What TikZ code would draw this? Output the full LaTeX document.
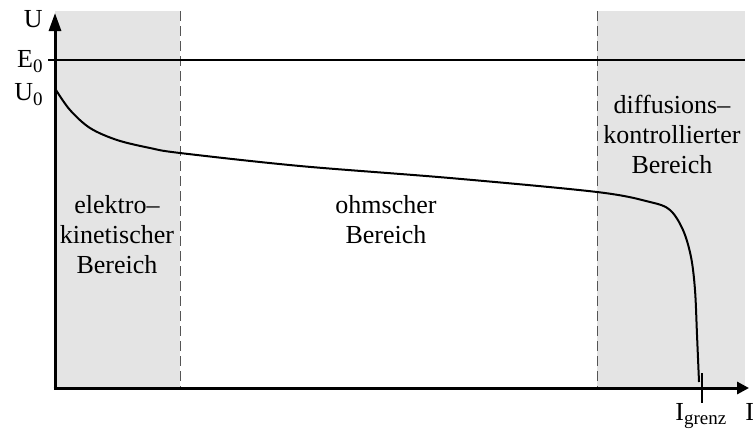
\documentclass[tikz,border=0pt]{standalone}
\usepackage{fontspec}
\setmainfont{Liberation Serif}
\usetikzlibrary{arrows.meta}
\newcommand{\lowsub}[1]{\raisebox{-2.6pt}{\fontsize{9.5}{10}\selectfont #1}}
\newcommand{\lowsubg}[1]{\raisebox{-2pt}{\fontsize{9.5}{10}\selectfont #1}}
\definecolor{regiongray}{HTML}{E4E4E4}
\definecolor{dashgray}{HTML}{555555}
\tikzset{
  region/.style={fill=regiongray, draw=none},
  sep/.style={draw=dashgray, line width=0.5pt, dash pattern=on 5pt off 2.5pt},
  axis/.style={line width=1.5pt},
  lbl/.style={font=\fontsize{13}{15}\selectfont, inner sep=0pt},
  rlbl/.style={lbl, align=center, anchor=base},
  curve/.style={line width=1pt, line join=round}
}
\begin{document}
\begin{tikzpicture}[x=0.5pt, y=-0.5pt]
\useasboundingbox (0,0) rectangle (753,429);
% regions
\fill[region] (55,11) rectangle (180,388);
\fill[region] (597,11) rectangle (745,388);
% dashed separators
\coordinate (d1t) at (180,11); \coordinate (d1b) at (180,388);
\coordinate (d2t) at (597,11); \coordinate (d2b) at (597,388);
\draw[sep] (d1t) -- (d1b);
\draw[sep] (d2t) -- (d2b);
% E0 line
\coordinate (e0l) at (48,60); \coordinate (e0r) at (745,60);
\draw[line width=1pt] (e0l) -- (e0r);
% curve
\draw[curve] plot[smooth, tension=0.55] coordinates {(56,90) (70,110) (90,128) (117,140) (150,148) (180,153) (300,166) (450,178) (597,192) (650,202) (670,210) (683,230) (691,257) (695,290) (697,335) (699,382)};
% axes
\coordinate (O) at (55,388);
\coordinate (ytop) at (55,13);
\coordinate (xend) at (749,388);
\draw[axis, -{Triangle[length=9pt,width=6pt]}] (O) -- (ytop);
\draw[axis, -{Triangle[length=6pt,width=6pt]}] ([xshift=-0.75pt]O) -- (xend);
% tick
\coordinate (tt) at (702,373); \coordinate (tb) at (702,403);
\draw[line width=1pt] (tt) -- (tb);
% axis labels
\node[lbl, anchor=base east] (U) at (43,27) {U};
\node[lbl, anchor=base east] (E0) at (43,67) {E\lowsub{0}};
\node[lbl, anchor=base east] (U0) at (43,100) {U\lowsub{0}};
\node[lbl, anchor=base west] (Ig) at (675,420) {I\lowsubg{grenz}};
\node[lbl, anchor=base west] (I) at (745,420) {I};
% region labels (base = last line)
\node[rlbl] (el) at (117,273) {elektro–\\kinetischer\\Bereich};
\node[rlbl] (om) at (386,243) {ohmscher\\Bereich};
\node[rlbl] (di) at (672,173) {diffusions–\\kontrollierter\\Bereich};
\end{tikzpicture}
\end{document}
